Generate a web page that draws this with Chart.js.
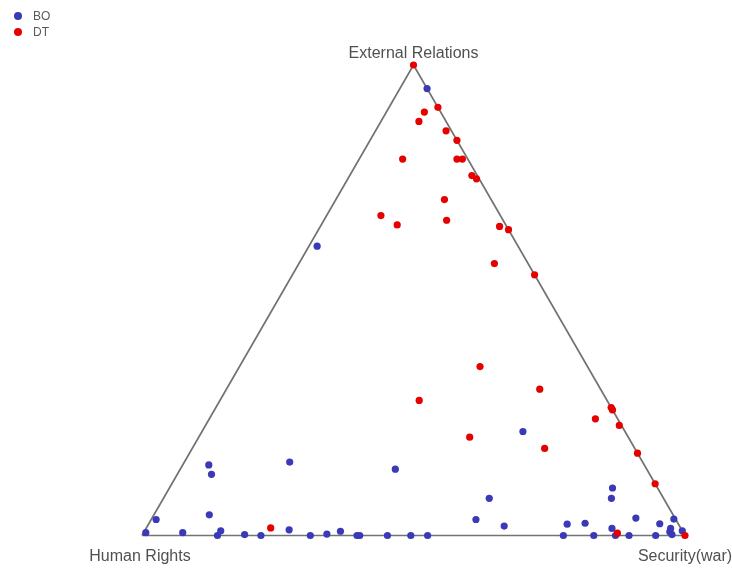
<!DOCTYPE html>
<html>
<head>
<meta charset="utf-8">
<script src="https://cdn.jsdelivr.net/npm/chart.js@4.4.1/dist/chart.umd.min.js"></script>
<style>
  html, body { margin: 0; padding: 0; background: #ffffff; }
  #wrap { width: 732px; height: 568px; }
</style>
</head>
<body>
<div id="wrap"><canvas id="c" width="732" height="568"></canvas></div>
<script>
// Ternary composition of each case, in percent:
// [Human Rights, Security(war), External Relations]
const seriesNames = ['BO', 'DT'];
const cornerLabels = ['Human Rights', 'Security(war)', 'External Relations'];

const boShares = [
  [0, 5, 95], [37, 1.5, 61.5], [18.8, 59.1, 22.1], [80.2, 4.8, 15],
  [80.7, 6.3, 13], [65, 19.4, 15.6], [85.4, 10.2, 4.4], [95.7, 0.9, 3.4],
  [99, 0.4, 0.6], [92.2, 7.2, 0.6], [85, 14, 1], [86.1, 13.9, 0],
  [81, 18.8, 0.2], [78.1, 21.9, 0], [72.3, 26.5, 1.2], [69, 31, 0],
  [65.8, 33.9, 0.3], [63, 36.1, 0.9], [60.4, 39.6, 0], [59.9, 40.1, 0],
  [54.8, 45.2, 0], [50.5, 49.5, 0], [47.4, 52.6, 0], [46.3, 39.6, 14.1],
  [36.8, 59.8, 3.4], [32.1, 60, 7.9], [32.3, 65.7, 2], [22.4, 77.6, 0],
  [20.5, 77.1, 2.4], [17.1, 80.3, 2.6], [16.8, 83.2, 0], [8.3, 81.6, 10.1],
  [9.6, 82.5, 7.9], [12.7, 85.8, 1.5], [12.8, 87.2, 0], [10.3, 89.7, 0],
  [7.2, 89.1, 3.7], [5.4, 94.6, 0], [3.4, 94.1, 2.5], [0.3, 96.2, 3.5],
  [1.9, 96.6, 1.5], [2.4, 96.8, 0.8], [2.3, 97.5, 0.2], [0, 99, 1]
];

const dtShares = [
  [0, 0, 100], [0, 9, 91], [3, 7, 90], [5, 7, 88], [1, 13, 86],
  [0, 16, 84], [12, 8, 80], [1, 19, 80], [2, 18, 80], [1, 22.5, 76.5],
  [0.5, 23.7, 75.8], [22, 10, 68], [20, 14, 66], [8.6, 20, 71.4],
  [10.4, 22.6, 67], [1.3, 33, 65.7], [0, 35, 65], [6.2, 36, 57.8],
  [0, 44.6, 55.4], [19.8, 44.3, 35.9], [34.6, 36.7, 28.7], [11.2, 57.7, 31.1],
  [0, 72.8, 27.2], [0, 73.3, 26.7], [4.1, 71.1, 24.8], [0.4, 76.2, 23.4],
  [29.2, 49.9, 20.9], [16.6, 64.9, 18.5], [0, 82.5, 17.5], [0, 89, 11],
  [75.5, 22.9, 1.6], [12.2, 87.3, 0.5], [0, 100, 0]
];

const seriesColors = ['#3a3ab8', '#e60000'];

// Map a composition onto the triangle: Human Rights at (0,0),
// Security(war) at (1,0), External Relations at (0.5,1).
function toPoint(s) {
  const total = s[0] + s[1] + s[2];
  const sec = s[1] / total;
  const ext = s[2] / total;
  return { x: sec + ext / 2, y: ext };
}

const corners = [{ x: 0, y: 0 }, { x: 1, y: 0 }, { x: 0.5, y: 1 }];

// Corner captions, drawn at the corner positions given by the scales.
const cornerCaptions = {
  id: 'cornerCaptions',
  afterDatasetsDraw(chart) {
    const { ctx, scales: { x, y } } = chart;
    const px = c => [x.getPixelForValue(c.x), y.getPixelForValue(c.y)];
    ctx.save();
    ctx.font = '16px "Liberation Sans", Arial, sans-serif';
    ctx.fillStyle = '#505050';
    ctx.textAlign = 'center';
    ctx.textBaseline = 'alphabetic';
    const [lx, ly] = px(corners[0]);
    const [rx, ry] = px(corners[1]);
    const [tx, ty] = px(corners[2]);
    ctx.fillText(cornerLabels[0], lx - 2, ly + 25);
    ctx.fillText(cornerLabels[1], rx, ry + 25);
    ctx.fillText(cornerLabels[2], tx, ty - 7);
    ctx.restore();
  }
};

// Compact legend in the top-left corner.
const cornerLegend = {
  id: 'cornerLegend',
  afterDraw(chart) {
    const { ctx } = chart;
    ctx.save();
    ctx.font = '12px "Liberation Sans", Arial, sans-serif';
    ctx.textBaseline = 'middle';
    ctx.textAlign = 'left';
    seriesNames.forEach((name, i) => {
      const cy = 16 + i * 16;
      ctx.beginPath();
      ctx.arc(18, cy, 4, 0, Math.PI * 2);
      ctx.fillStyle = seriesColors[i];
      ctx.fill();
      ctx.fillStyle = '#5a5a5a';
      ctx.fillText(name, 33, cy + 0.5);
    });
    ctx.restore();
  }
};

new Chart(document.getElementById('c'), {
  type: 'scatter',
  data: {
    datasets: [
      {
        label: seriesNames[1],
        data: dtShares.map(toPoint),
        backgroundColor: seriesColors[1],
        borderWidth: 0,
        pointRadius: 3.6,
        order: 0
      },
      {
        label: seriesNames[0],
        data: boShares.map(toPoint),
        backgroundColor: seriesColors[0],
        borderWidth: 0,
        pointRadius: 3.6,
        order: 1
      },
      {
        label: 'frame',
        data: [corners[0], corners[1], corners[2], corners[0]],
        showLine: true,
        fill: false,
        borderColor: '#737373',
        borderWidth: 1.7,
        pointRadius: 0,
        tension: 0,
        order: 2
      }
    ]
  },
  options: {
    responsive: false,
    devicePixelRatio: 1,
    animation: false,
    events: [],
    layout: { padding: 0, autoPadding: false },
    clip: false,
    plugins: {
      legend: { display: false },
      tooltip: { enabled: false },
      title: { display: false }
    },
    scales: {
      x: { type: 'linear', display: false, min: -142 / 543, max: 590 / 543 },
      y: { type: 'linear', display: false, min: -32.5 / 470.5, max: 535.5 / 470.5 }
    }
  },
  plugins: [cornerCaptions, cornerLegend]
});
</script>
</body>
</html>
